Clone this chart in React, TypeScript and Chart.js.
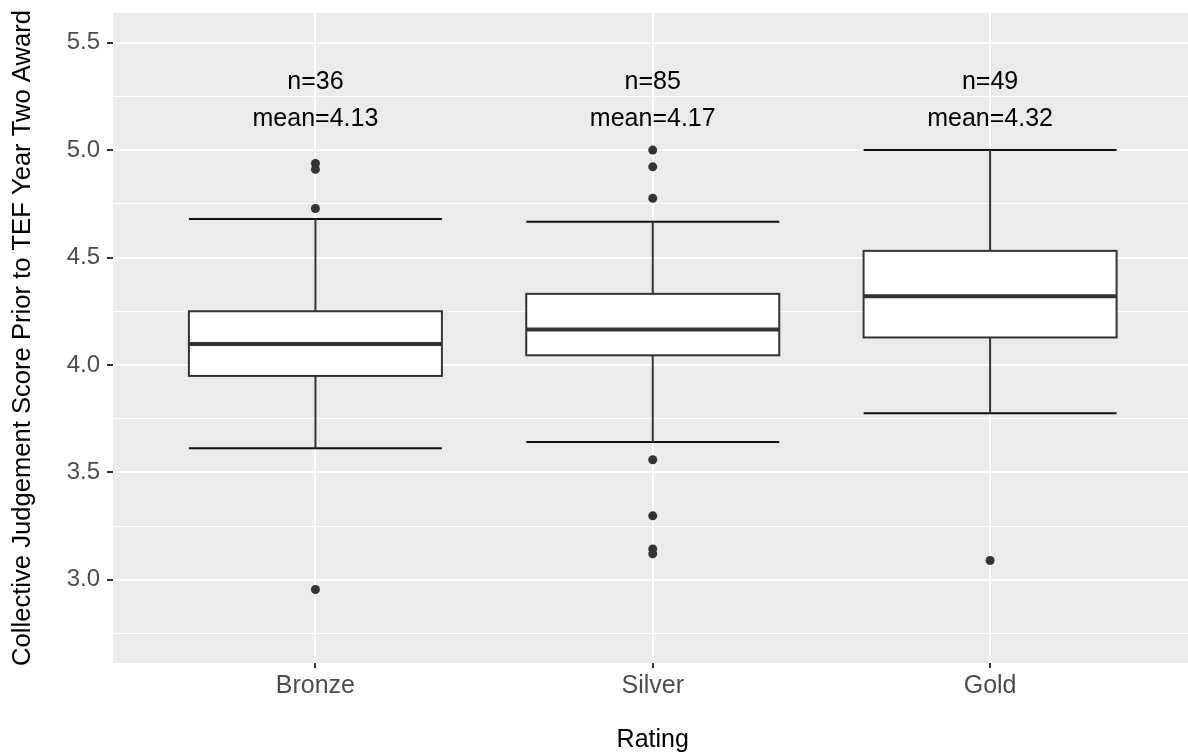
import React, { useEffect, useRef } from "react";
import { Chart, registerables } from "chart.js";

Chart.register(...registerables);

// ---- data ----
const categories = ["Bronze", "Silver", "Gold"];
const positions = [1, 2, 3];
const counts = [36, 85, 49];
const means = [4.13, 4.17, 4.32];
const lowerWhisker = [3.612, 3.641, 3.775];
const q1 = [3.949, 4.045, 4.128];
const median = [4.098, 4.165, 4.32];
const q3 = [4.25, 4.331, 4.531];
const upperWhisker = [4.679, 4.666, 5.0];
const bronzeOutliers = [4.938, 4.91, 4.728, 2.955];
const silverOutliers = [5.0, 4.922, 4.776, 3.559, 3.298, 3.144, 3.121];
const goldOutliers = [3.09];
const yTickValues = [2.75, 3.0, 3.25, 3.5, 3.75, 4.0, 4.25, 4.5, 4.75, 5.0, 5.25, 5.5];
const yMajorTicks = [3.0, 3.5, 4.0, 4.5, 5.0, 5.5];

const FONT = '"Liberation Sans", Arial, Helvetica, sans-serif';
const BOX_HALF = 0.375;
const N_LABEL_Y = 5.317;
const MEAN_LABEL_Y = 5.146;

const isMajor = (v: number) => yMajorTicks.some((m) => Math.abs(m - v) < 1e-6);

const panelPlugin = {
  id: "panelBg",
  beforeDraw(chart: any) {
    const { ctx, chartArea: a } = chart;
    ctx.save();
    ctx.fillStyle = "#EBEBEB";
    ctx.fillRect(a.left, a.top, a.right - a.left, a.bottom - a.top);
    ctx.restore();
  },
};

const boxPlugin = {
  id: "boxes",
  beforeDatasetsDraw(chart: any) {
    const { ctx, chartArea: a } = chart;
    const x = chart.scales.x;
    const y = chart.scales.y;
    ctx.save();
    ctx.beginPath();
    ctx.rect(a.left, a.top, a.right - a.left, a.bottom - a.top);
    ctx.clip();
    ctx.lineCap = "butt";
    positions.forEach((p, i) => {
      const cx = x.getPixelForValue(p);
      const xl = x.getPixelForValue(p - BOX_HALF);
      const xr = x.getPixelForValue(p + BOX_HALF);
      const yLw = y.getPixelForValue(lowerWhisker[i]);
      const yUw = y.getPixelForValue(upperWhisker[i]);
      const yQ1 = y.getPixelForValue(q1[i]);
      const yQ3 = y.getPixelForValue(q3[i]);
      const yMed = y.getPixelForValue(median[i]);
      // error bars (whisker caps)
      ctx.strokeStyle = "#111111";
      ctx.lineWidth = 2;
      ctx.beginPath();
      ctx.moveTo(xl, yUw);
      ctx.lineTo(xr, yUw);
      ctx.moveTo(xl, yLw);
      ctx.lineTo(xr, yLw);
      ctx.stroke();
      // whiskers
      ctx.strokeStyle = "#333333";
      ctx.beginPath();
      ctx.moveTo(cx, yUw);
      ctx.lineTo(cx, yQ3);
      ctx.moveTo(cx, yQ1);
      ctx.lineTo(cx, yLw);
      ctx.stroke();
      // box
      ctx.fillStyle = "#FFFFFF";
      ctx.fillRect(xl, yQ3, xr - xl, yQ1 - yQ3);
      ctx.strokeStyle = "#333333";
      ctx.lineWidth = 2;
      ctx.strokeRect(xl, yQ3, xr - xl, yQ1 - yQ3);
      // median
      ctx.lineWidth = 4;
      ctx.beginPath();
      ctx.moveTo(xl, yMed);
      ctx.lineTo(xr, yMed);
      ctx.stroke();
    });
    ctx.restore();
  },
  afterDatasetsDraw(chart: any) {
    const { ctx } = chart;
    const x = chart.scales.x;
    const y = chart.scales.y;
    ctx.save();
    ctx.fillStyle = "#000000";
    ctx.font = `25px ${FONT}`;
    ctx.textAlign = "center";
    ctx.textBaseline = "middle";
    positions.forEach((p, i) => {
      const cx = x.getPixelForValue(p);
      ctx.fillText(`n=${counts[i]}`, cx, y.getPixelForValue(N_LABEL_Y));
      ctx.fillText(`mean=${means[i].toFixed(2)}`, cx, y.getPixelForValue(MEAN_LABEL_Y));
    });
    ctx.restore();
  },
};

export default function App() {
  const ref = useRef<HTMLCanvasElement | null>(null);
  useEffect(() => {
    if (!ref.current) return;
    const outlierPts = [
      ...bronzeOutliers.map((v) => ({ x: positions[0], y: v })),
      ...silverOutliers.map((v) => ({ x: positions[1], y: v })),
      ...goldOutliers.map((v) => ({ x: positions[2], y: v })),
    ];
    const chart = new Chart(ref.current, {
      type: "scatter",
      data: {
        datasets: [
          {
            label: "outliers",
            data: outlierPts,
            pointRadius: 4.5,
            pointHoverRadius: 4.5,
            backgroundColor: "#333333",
            borderWidth: 0,
            showLine: false,
          },
        ],
      },
      options: {
        responsive: false,
        animation: false,
        devicePixelRatio: 1,
        layout: { padding: { top: 13, right: 0, left: 0, bottom: 0 } },
        plugins: { legend: { display: false }, tooltip: { enabled: false } },
        scales: {
          x: {
            type: "linear",
            min: 0.4,
            max: 3.6,
            afterBuildTicks: (s: any) => {
              s.ticks = positions.map((v) => ({ value: v }));
            },
            afterFit: (s: any) => {
              s.height = 90;
              s.paddingLeft = 0;
              s.paddingRight = 0;
              s.paddingTop = 0;
              s.paddingBottom = 0;
            },
            border: { display: false },
            grid: {
              color: "#FFFFFF",
              lineWidth: 2,
              tickColor: "#333333",
              tickLength: 5,
              tickWidth: 2,
            },
            ticks: {
              autoSkip: false,
              maxRotation: 0,
              padding: 3,
              color: "#4D4D4D",
              font: { family: FONT, size: 25 },
              callback: (v: any) => categories[positions.indexOf(Number(v))] ?? "",
            },
            title: {
              display: true,
              text: "Rating",
              color: "#000000",
              font: { family: FONT, size: 25, lineHeight: 1 },
              padding: { top: 0, bottom: 0 },
            },
          },
          y: {
            type: "linear",
            min: 2.613,
            max: 5.638,
            afterBuildTicks: (s: any) => {
              s.ticks = yTickValues.map((v) => ({ value: v }));
            },
            afterFit: (s: any) => {
              s.width = 113;
              s.paddingLeft = 0;
              s.paddingRight = 0;
              s.paddingTop = 0;
              s.paddingBottom = 0;
            },
            border: { display: false },
            grid: {
              color: "#FFFFFF",
              lineWidth: (c: any) => (c.tick && isMajor(c.tick.value) ? 2 : 1),
              tickColor: (c: any) => (c.tick && isMajor(c.tick.value) ? "#333333" : "rgba(0,0,0,0)"),
              tickLength: 6,
              tickWidth: 2,
            },
            ticks: {
              autoSkip: false,
              padding: 7,
              color: "#4D4D4D",
              font: { family: FONT, size: 24 },
              callback: (v: any) => (isMajor(Number(v)) ? Number(v).toFixed(1) : ""),
            },
            title: {
              display: true,
              text: "Collective Judgement Score Prior to TEF Year Two Award",
              color: "#000000",
              font: { family: FONT, size: 25.6, lineHeight: 1.2 },
              padding: { top: 8, bottom: 0 },
            },
          },
        },
      },
      plugins: [panelPlugin, boxPlugin],
    });
    return () => chart.destroy();
  }, []);
  return (
    <div style={{ position: "fixed", left: 0, top: 0, width: 1188, height: 753, overflow: "hidden", background: "#FFFFFF" }}>
      <canvas ref={ref} width={1197} height={753} style={{ width: 1197, height: 753, display: "block" }} />
    </div>
  );
}
